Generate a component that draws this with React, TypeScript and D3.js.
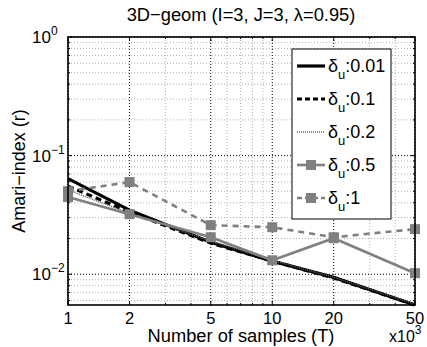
import React from "react";
import * as d3 from "d3";

const samples = [1, 2, 5, 10, 20, 50];
const d001 = [0.064, 0.0347, 0.0186, 0.0129, 0.0094, 0.0055];
const d01 = [0.0553, 0.0334, 0.0183, 0.0129, 0.0093, 0.0055];
const d02 = [0.0512, 0.0327, 0.019, 0.0131, 0.0094, 0.0056];
const d05 = [0.0447, 0.0321, 0.0205, 0.0131, 0.0201, 0.0102];
const d1 = [0.0501, 0.0598, 0.0259, 0.0249, 0.0205, 0.024];
const seriesLabels = ["0.01", "0.1", "0.2", "0.5", "1"];
const xTicks = [1, 2, 5, 10, 20, 50];
const yTickExps = [-2, -1, 0];

const W = 427, H = 347;
const M = { left: 68, right: 415, top: 37, bottom: 305 };
const GRAY = "#808080";
const FONT = "Liberation Sans, Arial, Helvetica, sans-serif";

export default function App() {
  const x = d3.scaleLog().domain([1, 50]).range([M.left, M.right]);
  const y = d3.scaleLog().domain([0.0055, 1]).range([M.bottom, M.top]);
  const line = d3
    .line<number>()
    .x((_, i) => x(samples[i]))
    .y((d) => y(d));

  const series = [
    { data: d001, color: "#000", width: 3.2, dash: "", marker: false },
    { data: d01, color: "#000", width: 3.2, dash: "6,4", marker: false },
    { data: d02, color: "#606060", width: 1.5, dash: "1,1", marker: false },
    { data: d05, color: GRAY, width: 2.6, dash: "", marker: true },
    { data: d1, color: GRAY, width: 2.6, dash: "6,5", marker: true },
  ];

  const xMinor = [3, 4, 6, 7, 8, 9, 30, 40];
  const yMinor: number[] = [];
  for (let e = -3; e < 0; e++) for (let k = 2; k <= 9; k++) {
    const v = k * Math.pow(10, e);
    if (v >= 0.0055 && v <= 1) yMinor.push(v);
  }

  const legendX = 292, legendY = 49, legendW = 99, legendH = 170;
  const rowY = [66, 99, 132, 165, 198];

  return (
    <svg width={W} height={H} style={{ position: "absolute", left: 0, top: 0, background: "#fff" }} fontFamily={FONT}>
      <rect x={0} y={0} width={W} height={H} fill="#fff" />
      {xMinor.map((v) => (
        <line key={"xm" + v} x1={x(v)} x2={x(v)} y1={M.top} y2={M.bottom} stroke="#b0b0b0" strokeWidth={1} strokeDasharray="1,2" />
      ))}
      {yMinor.map((v) => (
        <line key={"ym" + v} x1={M.left} x2={M.right} y1={y(v)} y2={y(v)} stroke="#b0b0b0" strokeWidth={1} strokeDasharray="1,2" />
      ))}
      {xTicks.map((v) => (
        <line key={"xg" + v} x1={x(v)} x2={x(v)} y1={M.top} y2={M.bottom} stroke="#000" strokeWidth={1} strokeDasharray="1,2" />
      ))}
      {yTickExps.map((e) => (
        <line key={"yg" + e} x1={M.left} x2={M.right} y1={y(Math.pow(10, e))} y2={y(Math.pow(10, e))} stroke="#000" strokeWidth={1} strokeDasharray="1,2" />
      ))}
      {xTicks.map((v) => (
        <g key={"xt" + v}>
          <line x1={x(v)} x2={x(v)} y1={M.bottom} y2={M.bottom - 4} stroke="#000" />
          <line x1={x(v)} x2={x(v)} y1={M.top} y2={M.top + 4} stroke="#000" />
        </g>
      ))}
      {xMinor.map((v) => (
        <g key={"xmt" + v}>
          <line x1={x(v)} x2={x(v)} y1={M.bottom} y2={M.bottom - 2} stroke="#000" />
          <line x1={x(v)} x2={x(v)} y1={M.top} y2={M.top + 2} stroke="#000" />
        </g>
      ))}
      {yMinor.map((v) => (
        <g key={"ymt" + v}>
          <line x1={M.left} x2={M.left + 2} y1={y(v)} y2={y(v)} stroke="#000" />
          <line x1={M.right} x2={M.right - 2} y1={y(v)} y2={y(v)} stroke="#000" />
        </g>
      ))}
      {yTickExps.map((e) => (
        <g key={"yt" + e}>
          <line x1={M.left} x2={M.left + 4} y1={y(Math.pow(10, e))} y2={y(Math.pow(10, e))} stroke="#000" />
          <line x1={M.right} x2={M.right - 4} y1={y(Math.pow(10, e))} y2={y(Math.pow(10, e))} stroke="#000" />
        </g>
      ))}
      {series.map((s, i) => (
        <g key={"s" + i}>
          <path d={line(s.data) || ""} fill="none" stroke={s.color} strokeWidth={s.width} strokeDasharray={s.dash || undefined} />
          {s.marker &&
            s.data.map((d, j) => (
              <rect key={j} x={x(samples[j]) - 5} y={y(d) - 5} width={10} height={10} fill={GRAY} />
            ))}
        </g>
      ))}
      <rect x={M.left} y={M.top} width={M.right - M.left} height={M.bottom - M.top} fill="none" stroke="#000" strokeWidth={1.6} />
      {xTicks.map((v) => (
        <text key={"xl" + v} x={x(v)} y={324} textAnchor="middle" fontSize={16.5}>
          {v}
        </text>
      ))}
      {yTickExps.map((e) => (
        <text key={"yl" + e} x={32} y={y(Math.pow(10, e)) + 6} textAnchor="start" fontSize={17}>
          10
          <tspan dy={-8} fontSize={12}>{e === 0 ? "0" : "\u2212" + String(-e)}</tspan>
        </text>
      ))}
      <text x={389} y={342} fontSize={16}>
        x10<tspan dy={-8} fontSize={12}>3</tspan>
      </text>
      <text x={241} y={342} textAnchor="middle" fontSize={18.3}>
        Number of samples (T)
      </text>
      <text transform={`translate(25,171) rotate(-90)`} textAnchor="middle" fontSize={18}>
        Amari{"\u2212"}index (r)
      </text>
      <text x={241} y={21} textAnchor="middle" fontSize={18.3}>
        3D{"\u2212"}geom (I=3, J=3, {"\u03bb"}=0.95)
      </text>
      <rect x={legendX} y={legendY} width={legendW} height={legendH} fill="#fff" stroke="#000" strokeWidth={1} />
      {series.map((s, i) => (
        <g key={"lg" + i}>
          <line x1={297} x2={325} y1={rowY[i]} y2={rowY[i]} stroke={s.color} strokeWidth={s.width} strokeDasharray={s.dash ? (s.dash === "1,1" ? "1,1" : "5,3") : undefined} />
          {s.marker && <rect x={306} y={rowY[i] - 5} width={10} height={10} fill={GRAY} />}
          <text x={328} y={rowY[i] + 6} fontSize={18}>
            {"\u03b4"}
            <tspan dy={7} fontSize={13}>u</tspan>
            <tspan dy={-7}>:{seriesLabels[i]}</tspan>
          </text>
        </g>
      ))}
    </svg>
  );
}
